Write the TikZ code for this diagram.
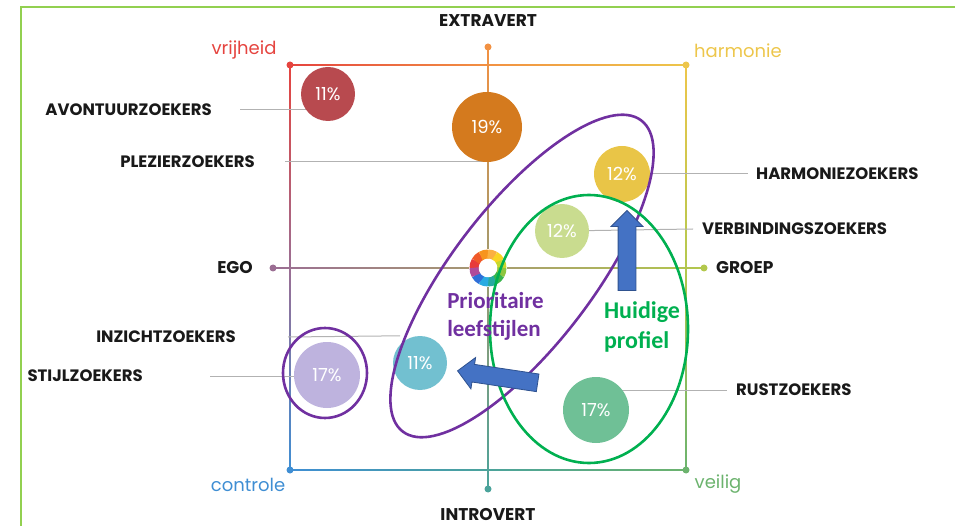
\documentclass[tikz,border=0pt]{standalone}
\usepackage{fontspec}
\usepackage{tikz}
\usetikzlibrary{shapes,shapes.arrows,shapes.geometric,positioning,calc}
\newfontfamily\geofont{Poppins}
\newfontfamily\calfont{Carlito}
\pgfdeclarelayer{background}
\pgfdeclarelayer{foreground}
\pgfsetlayers{background,main,foreground}
\definecolor{framegreen}{HTML}{92D050}
\definecolor{cvr}{HTML}{E5443F}
\definecolor{cext}{HTML}{F29142}
\definecolor{char}{HTML}{EDC64B}
\definecolor{cego}{HTML}{9B6E93}
\definecolor{cgro}{HTML}{B3C84D}
\definecolor{ccon}{HTML}{3F8ED3}
\definecolor{cint}{HTML}{4BA39B}
\definecolor{cvei}{HTML}{6CB36E}
\definecolor{bavcol}{HTML}{B84A4F}
\definecolor{bplcol}{HTML}{D47A1E}
\definecolor{bhacol}{HTML}{E9C547}
\definecolor{bvecol}{HTML}{C9DC8F}
\definecolor{bincol}{HTML}{72C0D0}
\definecolor{bstcol}{HTML}{BEB3DE}
\definecolor{brucol}{HTML}{6FC096}
\definecolor{prio}{HTML}{7030A0}
\definecolor{huid}{HTML}{00B050}
\definecolor{arrowblue}{HTML}{4472C4}
\definecolor{arrowedge}{HTML}{2F528F}
\tikzstyle{bubble} = [circle, inner sep=0pt, text=white, font=\geofont\fontsize{18}{18}\selectfont]
\tikzstyle{zoeker} = [inner sep=0pt, text=black!90, font=\geofont\bfseries\fontsize{16.5}{16.5}\selectfont]
\tikzstyle{poletext} = [inner sep=0pt, text=black!90, font=\geofont\bfseries\fontsize{17}{17}\selectfont]
\tikzstyle{cornertext} = [inner sep=0pt, font=\geofont\fontsize{18}{18}\selectfont]
\tikzstyle{axisdot} = [circle, inner sep=0pt, minimum size=7pt]
\tikzstyle{leader} = [draw, color=gray!60, line width=1pt]
\tikzstyle{hull} = [ellipse, draw, line width=2.6pt, inner sep=0pt]
\tikzstyle{bigarrow} = [single arrow, draw=arrowedge, fill=arrowblue, line width=0.8pt, inner sep=8.5pt, single arrow head extend=7pt, single arrow head indent=0pt]
\newcommand{\bubble}[3]{node (b#1) [bubble, fill=b#1col, minimum size=#2pt] {#3}}
\newcommand{\zoeker}[3]{node (l#1) [zoeker, anchor=#2] {#3}}
\newcommand{\axisdot}[2]{node (#1) [axisdot, fill=#2] {}}

\begin{document}
\begin{tikzpicture}[x=1pt,y=-1pt]
\useasboundingbox (0,0) rectangle (955,526);
\draw[framegreen, line width=1.5pt] (21,526) -- (21,7) -- (955,7);

\coordinate (c) at (488,268);
\path (c)+(-198,-203) \axisdot{tl}{cvr};
\path (c)+(198,-203) \axisdot{tr}{char};
\path (c)+(-198,202) \axisdot{bl}{ccon};
\path (c)+(198,202) \axisdot{br}{cvei};
\path (c)+(0,-221) \axisdot{top}{cext};
\path (c)+(0,221) \axisdot{bot}{cint};
\path (c)+(-215,0) \axisdot{ego}{cego};
\path (c)+(216,0) \axisdot{groep}{cgro};
\coordinate (tm) at (tl -| c);
\coordinate (bm) at (bl -| c);
\coordinate (lm) at (tl |- c);
\coordinate (rm) at (tr |- c);

\begin{pgfonlayer}{background}
\foreach \a/\b/\ca/\cb in {tl/tm/cvr/cext, tm/tr/cext/char, bl/bm/ccon/cint, bm/br/cint/cvei}
  \shade[left color=\ca, right color=\cb] ([yshift=0.9pt]\a) rectangle ([yshift=-0.9pt]\b);
\foreach \a/\b/\ca/\cb in {tl/lm/cvr/cego, lm/bl/cego/ccon, tr/rm/char/cgro, rm/br/cgro/cvei, top/bot/cext/cint}
  \shade[top color=\ca, bottom color=\cb] ([xshift=-0.9pt]\a) rectangle ([xshift=0.9pt]\b);
\shade[left color=cego, right color=cgro] ([yshift=0.9pt]ego) rectangle ([yshift=-0.9pt]groep);
\end{pgfonlayer}

\path (top)+(0,-26) node (extra) [poletext] {EXTRAVERT};
\path (bot)+(0,26) node (intro) [poletext] {INTROVERT};
\path (ego)+(-20,0) node (tego) [poletext, anchor=east] {EGO};
\path (groep)+(12,0) node (tgroep) [poletext, anchor=west] {GROEP};
\path (tl)+(-46,-15) node (vrij) [cornertext, text=cvr] {vrijheid};
\path (tr)+(52,-14) node (harm) [cornertext, text=char] {harmonie};
\path (bl)+(-42,15) node (contr) [cornertext, text=ccon] {controle};
\path (br)+(32,14) node (veil) [cornertext, text=cvei] {veilig};

\path (c)+(-160,-174) \bubble{av}{54}{11\%};
\path (c)+(-1,-141) \bubble{pl}{70}{19\%};
\path (c)+(134,-94) \bubble{ha}{56}{12\%};
\path (c)+(74,-37) \bubble{ve}{54}{12\%};
\path (c)+(-68,95) \bubble{in}{54}{11\%};
\path (c)+(-161,107) \bubble{st}{66}{17\%};
\path (c)+(108,142) \bubble{ru}{66}{17\%};

\path (bav)+(-116,16) \zoeker{av}{east}{AVONTUURZOEKERS};
\path (bpl)+(-232,35) \zoeker{pl}{east}{PLEZIERZOEKERS};
\path (bha)+(134,0) \zoeker{ha}{west}{HARMONIEZOEKERS};
\path (bve)+(140,-2) \zoeker{ve}{west}{VERBINDINGSZOEKERS};
\path (bin)+(-184,-26) \zoeker{in}{east}{INZICHTZOEKERS};
\path (bst)+(-184,1) \zoeker{st}{east}{STIJLZOEKERS};
\path (bru)+(140,-20) \zoeker{ru}{west}{RUSTZOEKERS};

\begin{pgfonlayer}{background}
\path [leader] ([xshift=28pt]lav.east) -- (bav.center |- lav.east);
\path [leader] ([xshift=30pt]lpl.east) -- (bpl.center |- lpl.east);
\path [leader] (bha.center) -- ([xshift=-8pt]lha.west);
\path [leader] (bve.center) -- ([xshift=-9pt]lve.west);
\path [leader] ([xshift=52pt]lin.east) -- ([xshift=-20pt]bin.north);
\path [leader] ([xshift=67pt]lst.east) -- (bst.center |- lst.east);
\path [leader] (bru.center |- lru.west) -- ([xshift=-9pt]lru.west);
\end{pgfonlayer}

\fill[white] (c) circle (19);
\foreach \ang/\col in {-165/E83A3A, -135/F05A28, -105/F7941D, -75/FBB040, -45/F9D423, -15/C5D82E, 15/8DC63F, 45/39B54A, 75/27AAA0, 105/29ABE2, 135/2E6FD8, 165/B04A9A}{
  \definecolor{ringcol}{HTML}{\col}
  \draw[line width=9pt, ringcol] ($(c)+(\ang-16:14)$) arc (\ang-16:\ang+16:14);
}

\path (c)+(34,8) node (pe) [hull, draw=prio, minimum width=392pt, minimum height=140pt, rotate=52.5] {};
\path (c)+(101,61) node (ge) [hull, draw=huid, minimum width=198pt, minimum height=268pt] {};
\path (bst)+(-2,-2) node (pst) [hull, draw=prio, minimum width=84pt, minimum height=90pt] {};

\path (c)+(139,-13) node (aup) [bigarrow, minimum height=80pt, rotate=90] {};
\path (c)+(14,109.5) node (aleft) [bigarrow, minimum height=81pt, rotate=171.5] {};

\path (c)+(7.5,48) node (tprio) [align=left, inner sep=0pt, text=prio, font=\calfont\bfseries\fontsize{23}{28}\selectfont] {Prioritaire\\leefstijlen};
\path (c)+(154,59) node (thuid) [align=left, inner sep=0pt, text=huid, font=\calfont\bfseries\fontsize{24}{30}\selectfont] {Huidige\\profiel};
\end{tikzpicture}
\end{document}
